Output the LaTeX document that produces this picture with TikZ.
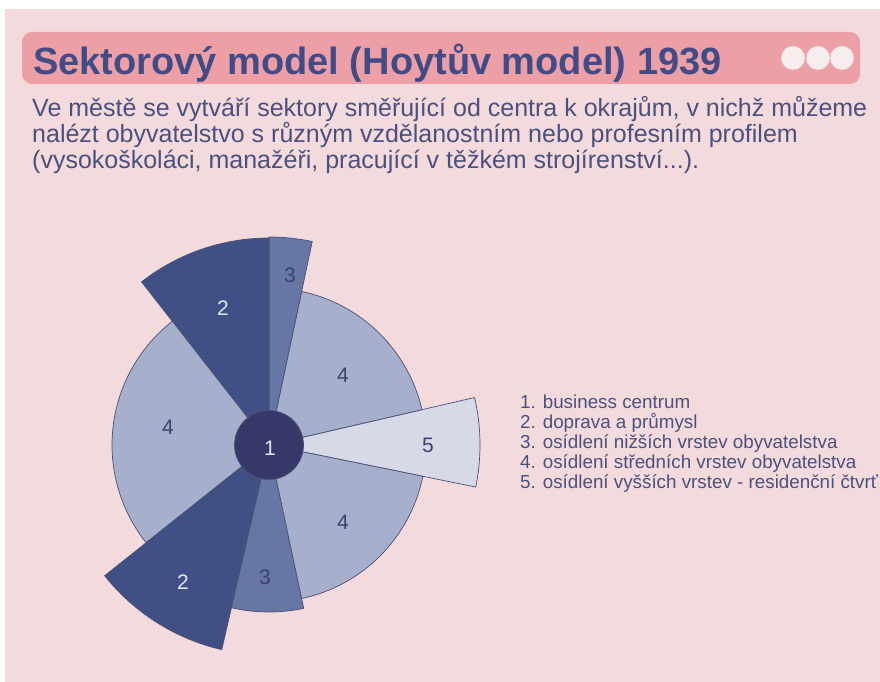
\documentclass[tikz,border=0pt]{standalone}
\usepackage{fontspec}
\setmainfont{Liberation Sans}
\definecolor{bgpink}{HTML}{F3DADD}
\definecolor{barpink}{HTML}{ECA0A6}
\definecolor{titleblue}{HTML}{414B87}
\definecolor{bodyblue}{HTML}{4B507D}
\definecolor{dotwhite}{HTML}{F6EEEE}
\definecolor{cone}{HTML}{37386A}
\definecolor{ctwo}{HTML}{415084}
\definecolor{cthree}{HTML}{6677A5}
\definecolor{cfour}{HTML}{A6B0CD}
\definecolor{cfive}{HTML}{D8D9E7}
\definecolor{edge}{HTML}{4A4F72}
\definecolor{lbldark}{HTML}{3C416E}
\definecolor{lbllight}{HTML}{E4E4F0}
\newcommand\hoytsector[4]{\fill[#4, draw=edge, line width=0.7pt] (C) -- ++(#1:#3) arc[start angle=#1, end angle=#2, radius=#3] -- cycle;}
\begin{document}
\begin{tikzpicture}[x=1pt,y=1pt,
  bodytext/.style={anchor=base west, inner sep=0pt, text=bodyblue, font=\fontsize{25}{27}\selectfont},
  legendtext/.style={anchor=base west, inner sep=0pt, text=bodyblue, font=\fontsize{18.8}{20}\selectfont},
  dot/.style={circle, fill=dotwhite, draw=barpink!80!white, line width=0.4pt, minimum size=24pt, inner sep=0pt},
  pielbl/.style={inner sep=0pt, font=\fontsize{21}{23}\selectfont}]
\useasboundingbox (0,0) rectangle (880,682);
\fill[white] (0,0) rectangle (880,682);
\fill[bgpink] (5,0) rectangle (880,673);
% title bar
\fill[barpink, rounded corners=10pt] (22,598) rectangle (860,650);
\node[anchor=base west, inner sep=0pt, text=titleblue, font=\fontsize{38}{40}\selectfont\bfseries] (title) at (33,607) {Sektorový model (Hoytův model) 1939};
\node[dot] (d1) at (793,624) {};
\node[dot] (d2) at (818,624) {};
\node[dot] (d3) at (842,624) {};
% paragraph
\node[bodytext] (p1) at (32,565) {Ve městě se vytváří sektory směřující od centra k okrajům, v nichž můžeme};
\node[bodytext] (p2) at (32,539) {nalézt obyvatelstvo s různým vzdělanostním nebo profesním profilem};
\node[bodytext] (p3) at (32,513) {(vysokoškoláci, manažéři, pracující v těžkém strojírenství...).};
% pie
\coordinate (C) at (269,237);
\hoytsector{-11.5}{13}{211}{cfive}
\hoytsector{13}{78}{157}{cfour}
\hoytsector{78}{90}{208}{cthree}
\hoytsector{90}{128}{207}{ctwo}
\hoytsector{128}{218.5}{157}{cfour}
\hoytsector{218.5}{257}{210}{ctwo}
\hoytsector{257}{282}{167}{cthree}
\hoytsector{282}{348.5}{157}{cfour}
\node[circle, fill=cone, draw=edge, line width=0.7pt, minimum size=69pt, inner sep=0pt] (c1) at (C) {};
\node[pielbl, text=lbllight] (n1) at (270,234) {1};
\node[pielbl, text=lbllight] (n2a) at (223,374) {2};
\node[pielbl, text=lbldark] (n3a) at (290,407) {3};
\node[pielbl, text=lbldark] (n4a) at (343,307) {4};
\node[pielbl, text=lbldark] (n4b) at (168,255) {4};
\node[pielbl, text=lbldark] (n5) at (428,237) {5};
\node[pielbl, text=lbldark] (n4c) at (343,160) {4};
\node[pielbl, text=lbllight] (n2b) at (183,100) {2};
\node[pielbl, text=lbldark] (n3b) at (265,105) {3};
% legend
\node[legendtext] (l1) at (520,273) {1. business centrum};
\node[legendtext] (l2) at (520,253) {2. doprava a průmysl};
\node[legendtext] (l3) at (520,233) {3. osídlení nižších vrstev obyvatelstva};
\node[legendtext] (l4) at (520,213) {4. osídlení středních vrstev obyvatelstva};
\node[legendtext] (l5) at (520,193) {5. osídlení vyšších vrstev - residenční čtvrť};
\end{tikzpicture}
\end{document}
